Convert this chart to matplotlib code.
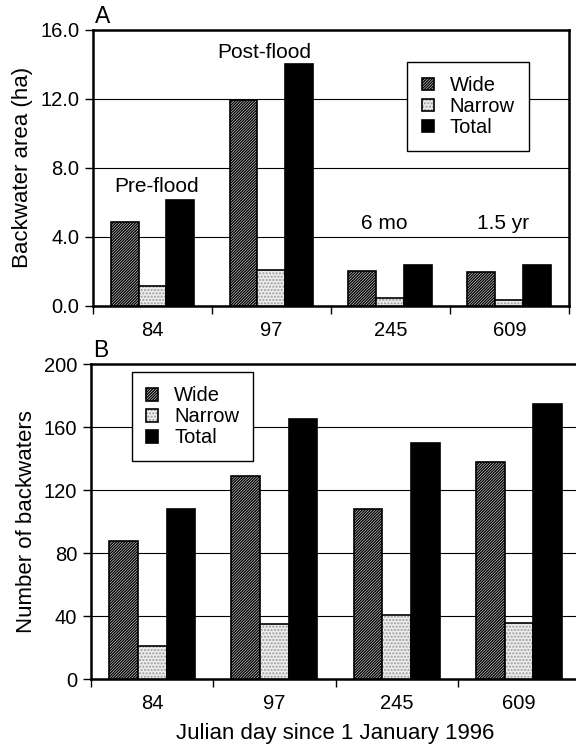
import numpy as np
import matplotlib
matplotlib.use("Agg")
import matplotlib.pyplot as plt
from matplotlib.patches import Patch

plt.rcParams['font.family'] = ['Liberation Sans', 'DejaVu Sans']
plt.rcParams['hatch.linewidth'] = 1.0

# data
days = ['84', '97', '245', '609']
area_wide = [4.85, 11.95, 2.0, 1.95]
area_narrow = [1.15, 2.1, 0.45, 0.35]
area_total = [6.15, 14.05, 2.35, 2.35]
area_notes = ['Pre-flood', 'Post-flood', '6 mo', '1.5 yr']
count_wide = [88, 129, 108, 138]
count_narrow = [21, 35, 41, 36]
count_total = [108, 165, 150, 175]

fig = plt.figure(figsize=(5.76, 7.48), dpi=100)
axA = fig.add_axes([0.1615, 0.591, 0.826, 0.369])
axB = fig.add_axes([0.158, 0.092, 0.849, 0.421])

x = np.arange(len(days))
w = 0.235
labels = ['Wide', 'Narrow', 'Total']


def bars(ax, xs, vals, kind):
    # returns a legend handle matching the bar look
    if kind == 0:
        ax.bar(xs, vals, w, facecolor='#eeeeee', hatch='/' * 12,
               edgecolor='black', linewidth=1.2, zorder=3)
        return Patch(facecolor='#eeeeee', hatch='/' * 12, edgecolor='black', linewidth=1.2)
    if kind == 1:
        ax.bar(xs, vals, w, facecolor='#ececec', hatch='.....',
               edgecolor='#9a9a9a', linewidth=0, zorder=3)
        ax.bar(xs, vals, w, facecolor='none', edgecolor='black', linewidth=1.2, zorder=4)
        return (Patch(facecolor='#ececec', hatch='.....', edgecolor='#9a9a9a', linewidth=0),
                Patch(facecolor='none', edgecolor='black', linewidth=1.2))
    ax.bar(xs, vals, w, facecolor='black', edgecolor='black', linewidth=1.2, zorder=3)
    return Patch(facecolor='black', edgecolor='black', linewidth=1.2)


def draw(ax, series, ymax, step, fmt):
    handles = []
    for k, (off, vals) in enumerate(zip([-w, 0, w], series)):
        handles.append(bars(ax, x + off, vals, k))
    ax.set_xlim(-0.5, 3.5)
    ax.set_ylim(0, ymax)
    yt = np.arange(0, ymax + step / 2, step)
    ax.set_yticks(yt)
    ax.set_yticklabels([fmt % v for v in yt])
    ax.yaxis.grid(True, color='black', linewidth=0.8, zorder=0)
    ax.set_axisbelow(True)
    ax.set_xticks(x)
    ax.set_xticklabels(days)
    ax.set_xticks(np.arange(-0.5, 3.6, 1), minor=True)
    ax.tick_params(axis='x', which='major', length=0, labelsize=14.5, pad=11)
    ax.tick_params(axis='x', which='minor', length=6, width=1, direction='out')
    ax.tick_params(axis='y', length=6, width=1, labelsize=14.5, pad=4)
    for s in ax.spines.values():
        s.set_linewidth(1.8)
    return handles


leg_kw = dict(fontsize=14.5, frameon=True, fancybox=False, edgecolor='black',
              handlelength=0.6, handleheight=0.6, handletextpad=0.8,
              borderpad=0.7, labelspacing=0.1, framealpha=1, borderaxespad=0)

hA = draw(axA, [area_wide, area_narrow, area_total], 16, 4, '%.1f')
axA.set_ylabel('Backwater area (ha)', fontsize=16, labelpad=5)
legA = axA.legend(hA, labels, loc='upper right', bbox_to_anchor=(0.916, 0.884), **leg_kw)
legA.get_frame().set_linewidth(1.0)
note_y = [6.9, 14.7, 4.8, 4.8]
note_dx = [0.03, -0.06, -0.05, -0.05]
for i, (txt, yv) in enumerate(zip(area_notes, note_y)):
    axA.text(x[i] + note_dx[i], yv, txt, ha='center', va='center', fontsize=15)
axA.text(0.004, 1.008, 'A', transform=axA.transAxes, fontsize=16.5, va='bottom', ha='left')

hB = draw(axB, [count_wide, count_narrow, count_total], 200, 40, '%d')
axB.set_ylabel('Number of backwaters', fontsize=16, labelpad=5)
axB.set_xlabel('Julian day since 1 January 1996', fontsize=16, labelpad=7)
legB = axB.legend(hB, labels, loc='upper left', bbox_to_anchor=(0.084, 0.975), **leg_kw)
legB.get_frame().set_linewidth(1.0)
axB.text(0.004, 1.008, 'B', transform=axB.transAxes, fontsize=16.5, va='bottom', ha='left')

fig.savefig('out.png', dpi=100)
